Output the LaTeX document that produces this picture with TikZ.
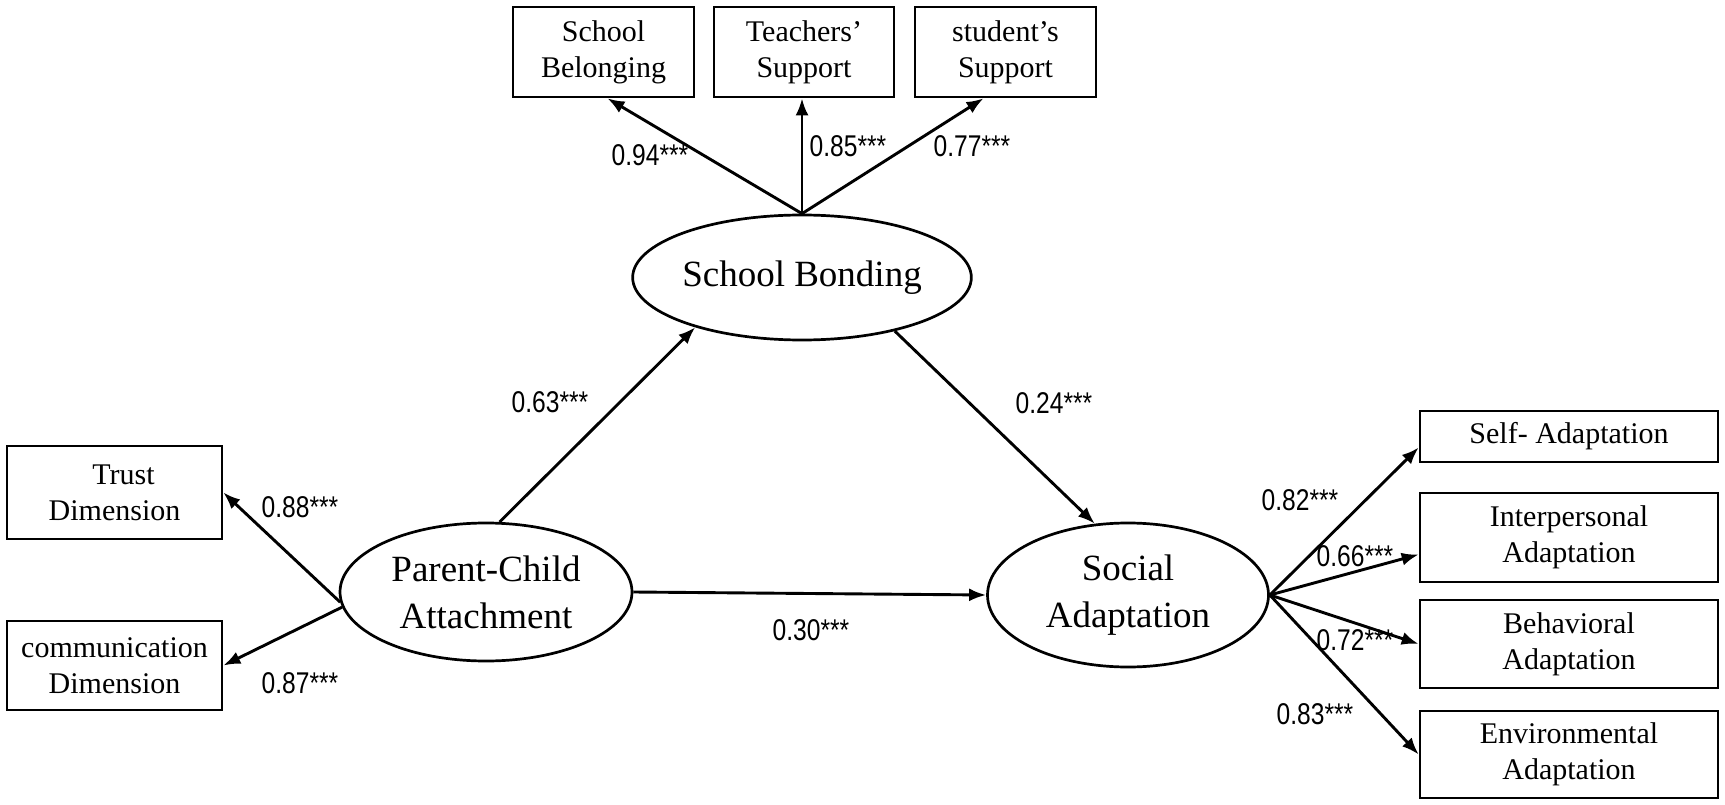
\documentclass[tikz,border=0pt]{standalone}
\usepackage{fontspec}
\setmainfont{Liberation Serif}
\newfontfamily\labfont[FakeStretch=0.82]{Liberation Sans}
\usetikzlibrary{shapes.geometric,arrows.meta}
\begin{document}
\begin{tikzpicture}[x=1pt,y=-1pt,
  box/.style={draw,line width=2.7pt,inner sep=0pt,align=center,font=\fontsize{30}{36}\selectfont},
  lat/.style={draw,ellipse,line width=2.7pt,inner sep=0pt,align=center,font=\fontsize{37}{47}\selectfont},
  arr/.style={line width=2.9pt,-{Latex[length=17pt,width=13pt]}},
  coef/.style={inner sep=0pt,font=\labfont\fontsize{30}{36}\selectfont}]
\fill[white] (0,0) rectangle (1725,805);
\useasboundingbox (0,0) rectangle (1725,805);

% indicator boxes, top
\node[box,minimum width=181pt,minimum height=90pt] (sbel) at (603.5,52) {School\\Belonging};
\node[box,minimum width=180pt,minimum height=90pt] (tsup) at (804,52) {Teachers'\\Support};
\node[box,minimum width=181pt,minimum height=90pt] (ssup) at (1005.5,52) {student's\\Support};

% indicator boxes, left
\node[box,minimum width=215pt,minimum height=93pt] (trust) at (114.5,492.5) {\hspace*{18pt}Trust\\Dimension};
\node[box,minimum width=215pt,minimum height=89pt] (comm) at (114.5,665.5) {communication\\Dimension};

% indicator boxes, right
\node[box,minimum width=298pt,minimum height=51pt] (self) at (1569,436.5) {Self- Adaptation};
\node[box,minimum width=298pt,minimum height=89pt] (inter) at (1569,537.5) {Interpersonal\\Adaptation};
\node[box,minimum width=298pt,minimum height=88pt] (behav) at (1569,644) {Behavioral\\Adaptation};
\node[box,minimum width=298pt,minimum height=87pt] (env) at (1569,754.5) {Environmental\\Adaptation};

% latent variables
\node[lat,minimum width=304pt,minimum height=125pt] (sb) at (802,277.5) {School Bonding};
\node[lat,minimum width=292pt,minimum height=138pt] (pc) at (486,592) {Parent-Child\\Attachment};
\node[lat,minimum width=281pt,minimum height=144pt] (sa) at (1128,595) {Social\\Adaptation};

% connectors
\draw[arr] (sb.north) -- ([xshift=4pt]sbel.south);
\draw[arr] (sb.north) -- ([xshift=-2pt]tsup.south);
\draw[arr] (sb.north) -- ([xshift=-22pt]ssup.south);

\draw[arr] (pc.79) -- (sb.205);
\draw[arr] (sb.330) -- (sa.115);
\draw[arr] (pc.east) -- (sa.west);

\draw[arr] (pc.184) -- (trust.east);
\draw[arr] (pc.186) -- (comm.east);

\draw[arr] (sa.east) -- ([yshift=-11pt]self.west);
\draw[arr] (sa.east) -- ([yshift=-17pt]inter.west);
\draw[arr] (sa.east) -- (behav.west);
\draw[arr] (sa.east) -- (env.west);

% coefficients
\node[coef] (c1) at (650,155) {0.94***};
\node[coef] (c2) at (848,146) {0.85***};
\node[coef] (c3) at (972,146) {0.77***};
\node[coef] (c4) at (550,402) {0.63***};
\node[coef] (c5) at (1054,403) {0.24***};
\node[coef] (c6) at (811,630) {0.30***};
\node[coef] (c7) at (300,507) {0.88***};
\node[coef] (c8) at (300,683) {0.87***};
\node[coef] (c9) at (1300,500) {0.82***};
\node[coef] (c10) at (1355,556) {0.66***};
\node[coef] (c11) at (1355,640) {0.72***};
\node[coef] (c12) at (1315,714) {0.83***};
\end{tikzpicture}
\end{document}
